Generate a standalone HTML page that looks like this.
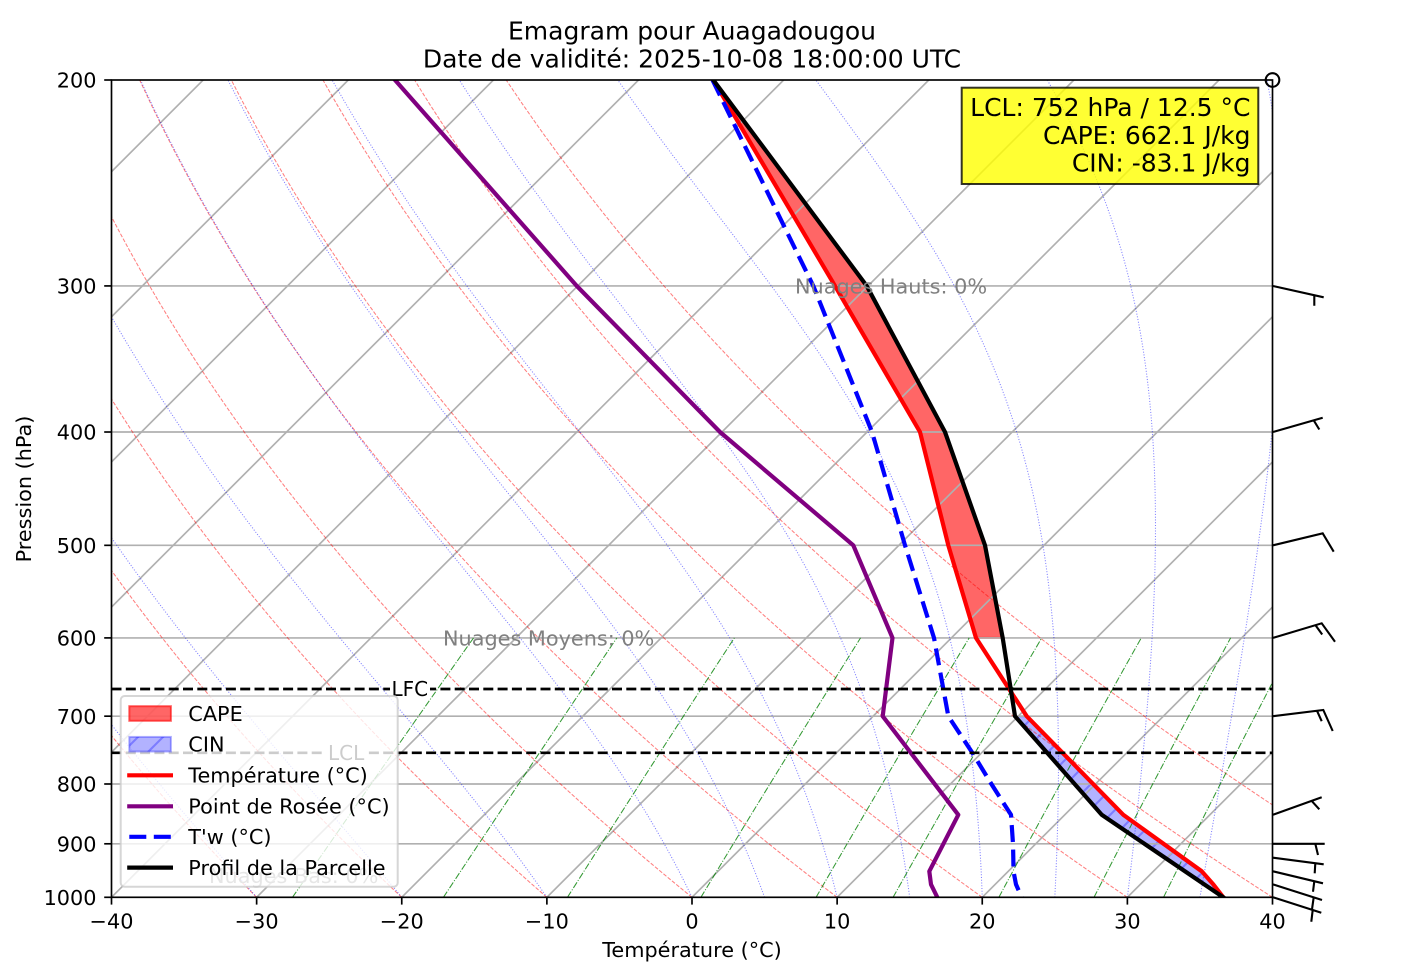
<!DOCTYPE html>
<html><head><meta charset="utf-8">
<style>
html,body{margin:0;padding:0;background:#fff;}
svg{display:block;font-family:"DejaVu Sans","Liberation Sans",sans-serif;}
</style></head>
<body>
<svg id="s" width="1404" height="978" viewBox="0 0 1404 978" xmlns="http://www.w3.org/2000/svg">
<defs>
<clipPath id="ax"><rect x="111.5" y="80" width="1161" height="817.3"/></clipPath>
<pattern id="hatch" patternUnits="userSpaceOnUse" width="25" height="25">
<path d="M-12.5,12.5 L12.5,-12.5 M0,25 L25,0 M12.5,37.5 L37.5,12.5" stroke="#0000ff" stroke-opacity="0.3" stroke-width="2.1" fill="none"/>
</pattern>
</defs>
<rect x="0" y="0" width="1404" height="978" fill="#fff"/>

<g clip-path="url(#ax)">
<!-- CAPE fill -->
<polygon points="713.3,80 866.7,285.9 945,432 985,545.3 1002.7,637.9 976,637.9 948.3,545.3 920,432 835,285.9" fill="#ff0000" fill-opacity="0.6" stroke="#ff0000" stroke-opacity="0.6" stroke-width="2"/>
<!-- CIN fill -->
<polygon points="1015,716.2 1101.7,814.8 1223.3,897.3 1213.3,884.4 1201.7,871.25 1123.3,814.8 1026.7,716.2" fill="#0000ff" fill-opacity="0.3" stroke="#0000ff" stroke-opacity="0.3" stroke-width="2"/>
<polygon points="1015,716.2 1101.7,814.8 1223.3,897.3 1213.3,884.4 1201.7,871.25 1123.3,814.8 1026.7,716.2" fill="url(#hatch)"/>

<!-- horizontal grid -->
<g stroke="#b0b0b0" stroke-width="1.67">
<line x1="111.5" x2="1272.5" y1="285.92" y2="285.92"/>
<line x1="111.5" x2="1272.5" y1="432.01" y2="432.01"/>
<line x1="111.5" x2="1272.5" y1="545.32" y2="545.32"/>
<line x1="111.5" x2="1272.5" y1="637.9" y2="637.9"/>
<line x1="111.5" x2="1272.5" y1="716.18" y2="716.18"/>
<line x1="111.5" x2="1272.5" y1="783.99" y2="783.99"/>
<line x1="111.5" x2="1272.5" y1="843.8" y2="843.8"/>
</g>
<g id="iso" stroke="#b0b0b0" stroke-width="1.67" fill="none"></g>
<g id="dry" stroke="#ff0000" stroke-opacity="0.5" stroke-width="1.04" stroke-dasharray="3.85 1.67" fill="none"></g>
<g id="moist" stroke="#0000ff" stroke-opacity="0.5" stroke-width="1.04" stroke-dasharray="1.04 1.72" fill="none"></g>
<g id="mix" stroke="#008000" stroke-opacity="0.8" stroke-width="1.04" stroke-dasharray="6.7 1.67 1.04 1.67" fill="none"></g>

<!-- data lines -->
<g fill="none" stroke-width="4.2" stroke-linejoin="round">
<path d="M713.3,80 L835,285.9 L920,432 L948.3,545.3 L976,637.9 L1026.7,716.2 L1123.3,814.8 L1201.7,871.25 L1213.3,884.4 L1223.3,897.3" stroke="#ff0000" stroke-linecap="square"/>
<path d="M395,80 L576.7,285.9 L720,432 L853.3,545.3 L892.5,637.9 L882.7,716.2 L958.3,814.8 L929.3,871.3 L931,884.4 L937.3,897.3" stroke="#800080" stroke-linecap="square"/>
<path d="M712.5,80 L813.3,285.9 L872,432 L905,545.3 L934,637.9 L948.3,716.2 L972.5,753 L991.4,784 L1011,814.8 L1013,843.8 L1013.3,857.7 L1013.5,871.3 L1016,884.4 L1021.7,897.3" stroke="#0000ff" stroke-dasharray="17 7.5"/>
<path d="M713.3,80 L866.7,285.9 L945,432 L985,545.3 L1002.7,637.9 L1015,716.2 L1101.7,814.8 L1223.3,897.3" stroke="#000000" stroke-linecap="square"/>
</g>

<!-- LFC / LCL -->
<g stroke="#000" stroke-width="2.7" stroke-dasharray="10 4.3">
<line x1="111.5" x2="1272.5" y1="689" y2="689"/>
<line x1="111.5" x2="1272.5" y1="752.8" y2="752.8"/>
</g>
</g>

<!-- labels in axes -->
<rect x="390" y="681" width="40" height="16" fill="#fff"/>
<text x="391.5" y="696" font-size="20" fill="#000">LFC</text>
<rect x="326" y="745" width="40" height="16" fill="#fff"/>
<text x="328" y="760" font-size="20" fill="#000">LCL</text>
<text x="795" y="293.5" font-size="20.8" fill="#808080">Nuages Hauts: 0%</text>
<text x="443" y="645.3" font-size="20.8" fill="#808080">Nuages Moyens: 0%</text>
<text x="209" y="883" font-size="20.8" fill="#808080">Nuages Bas: 0%</text>

<!-- legend -->
<rect x="120.7" y="696" width="277" height="190.7" rx="4" ry="4" fill="#fff" fill-opacity="0.8" stroke="#cccccc" stroke-opacity="0.8" stroke-width="2"/>
<rect x="129.3" y="706.2" width="41.6" height="14.6" fill="#ff0000" fill-opacity="0.6" stroke="#ff0000" stroke-opacity="0.6" stroke-width="2"/>
<rect x="129.3" y="736.9" width="41.6" height="14.6" fill="#0000ff" fill-opacity="0.3" stroke="#0000ff" stroke-opacity="0.3" stroke-width="2"/>
<rect x="129.3" y="736.9" width="41.6" height="14.6" fill="url(#hatch)"/>
<line x1="129.3" x2="170.9" y1="775.3" y2="775.3" stroke="#ff0000" stroke-width="4.2" stroke-linecap="square"/>
<line x1="129.3" x2="170.9" y1="806.3" y2="806.3" stroke="#800080" stroke-width="4.2" stroke-linecap="square"/>
<line x1="129.3" x2="170.9" y1="836.8" y2="836.8" stroke="#0000ff" stroke-width="4.2" stroke-dasharray="17 7.5"/>
<line x1="129.3" x2="170.9" y1="867.6" y2="867.6" stroke="#000" stroke-width="4.2" stroke-linecap="square"/>
<g font-size="20.8" fill="#000">
<text x="188.3" y="721">CAPE</text>
<text x="188.3" y="751.7">CIN</text>
<text x="188.3" y="782.7">Température (°C)</text>
<text x="188.3" y="813.4">Point de Rosée (°C)</text>
<text x="188.3" y="844.1">T'w (°C)</text>
<text x="188.3" y="874.9">Profil de la Parcelle</text>
</g>

<!-- info box -->
<rect x="961.7" y="87.7" width="296.6" height="96.3" fill="#ffff00" fill-opacity="0.8" stroke="#000" stroke-opacity="0.8" stroke-width="2"/>
<g font-size="25" fill="#000" text-anchor="end">
<text x="1250.5" y="116.2">LCL: 752 hPa / 12.5 °C</text>
<text x="1250.5" y="143.8">CAPE: 662.1 J/kg</text>
<text x="1250.5" y="171.4">CIN: -83.1 J/kg</text>
</g>

<!-- spines -->
<rect x="111.5" y="80" width="1161" height="817.3" fill="none" stroke="#000" stroke-width="1.67"/>

<!-- wind barbs -->
<g stroke="#000" stroke-width="2.1" fill="none" stroke-linejoin="miter">
<circle cx="1272.5" cy="80" r="6.8"/>
<path d="M1273,286 L1323.7,297.3 M1314.3,295.4 L1314.3,305.7"/>
<path d="M1273,432 L1322.7,417.7 M1313.7,420.3 L1319.3,429.5"/>
<path d="M1273,545.3 L1322.7,533.3 L1333.7,551.7"/>
<path d="M1273,637.9 L1321.7,623.3 L1335,641.7 M1315.5,625.2 L1322.2,634.5"/>
<path d="M1273,716.2 L1323.3,710 L1332.7,731 M1317,710.8 L1321.7,721.2"/>
<path d="M1273,814.8 L1321.7,797.3 M1311.7,800.9 L1319.3,809.3"/>
<path d="M1273,843.8 L1324.7,843.8 M1315.3,843.8 L1318,855"/>
<path d="M1273,857.7 L1323.7,864.3 M1315.3,863.2 L1314.7,873.3"/>
<path d="M1273,871.3 L1323,883.3 M1314.3,881.2 L1313,891.7"/>
<path d="M1273,884.4 L1322,900 M1313.7,897.3 L1312,909.3"/>
<path d="M1273,897.3 L1321.3,912.7 M1312.7,910 L1311.3,921.7"/>
</g>

<!-- ticks -->
<g stroke="#000" stroke-width="1.67">
<line x1="104.2" x2="111.5" y1="80" y2="80"/>
<line x1="104.2" x2="111.5" y1="285.92" y2="285.92"/>
<line x1="104.2" x2="111.5" y1="432.01" y2="432.01"/>
<line x1="104.2" x2="111.5" y1="545.32" y2="545.32"/>
<line x1="104.2" x2="111.5" y1="637.9" y2="637.9"/>
<line x1="104.2" x2="111.5" y1="716.18" y2="716.18"/>
<line x1="104.2" x2="111.5" y1="783.99" y2="783.99"/>
<line x1="104.2" x2="111.5" y1="843.8" y2="843.8"/>
<line x1="104.2" x2="111.5" y1="897.3" y2="897.3"/>
<line x1="111.5" x2="111.5" y1="897.3" y2="904.6"/>
<line x1="256.63" x2="256.63" y1="897.3" y2="904.6"/>
<line x1="401.75" x2="401.75" y1="897.3" y2="904.6"/>
<line x1="546.88" x2="546.88" y1="897.3" y2="904.6"/>
<line x1="692" x2="692" y1="897.3" y2="904.6"/>
<line x1="837.13" x2="837.13" y1="897.3" y2="904.6"/>
<line x1="982.25" x2="982.25" y1="897.3" y2="904.6"/>
<line x1="1127.38" x2="1127.38" y1="897.3" y2="904.6"/>
<line x1="1272.5" x2="1272.5" y1="897.3" y2="904.6"/>
</g>
<g font-size="20.8" fill="#000" text-anchor="end">
<text x="96.5" y="87.6">200</text>
<text x="96.5" y="293.5">300</text>
<text x="96.5" y="439.6">400</text>
<text x="96.5" y="552.9">500</text>
<text x="96.5" y="645.5">600</text>
<text x="96.5" y="723.8">700</text>
<text x="96.5" y="791.6">800</text>
<text x="96.5" y="851.4">900</text>
<text x="96.5" y="904.9">1000</text>
</g>
<g font-size="20.8" fill="#000" text-anchor="middle">
<text x="111.5" y="928.3">−40</text>
<text x="256.63" y="928.3">−30</text>
<text x="401.75" y="928.3">−20</text>
<text x="546.88" y="928.3">−10</text>
<text x="692" y="928.3">0</text>
<text x="837.13" y="928.3">10</text>
<text x="982.25" y="928.3">20</text>
<text x="1127.38" y="928.3">30</text>
<text x="1272.5" y="928.3">40</text>
<text x="692" y="957">Température (°C)</text>
<text transform="translate(31,489) rotate(-90)">Pression (hPa)</text>
</g>

<!-- title -->
<g font-size="25" fill="#000" text-anchor="middle">
<text x="692" y="39.5">Emagram pour Auagadougou</text>
<text x="692" y="67.5">Date de validité: 2025-10-08 18:00:00 UTC</text>
</g>
</svg>
<script>
(function(){
var NS="http://www.w3.org/2000/svg";
var L=111.5,B=897.3,K=507.8,S=14.5125;
function Y(p){return B-K*Math.log(1000/p);}
function X(t,p){return L+(t+40)*S+K*Math.log(1000/p);}
function add(gid,pts){
  var g=document.getElementById(gid);
  var e=document.createElementNS(NS,'path');
  var d='';
  for(var i=0;i<pts.length;i++){d+=(i?'L':'M')+pts[i][0].toFixed(2)+' '+pts[i][1].toFixed(2);}
  e.setAttribute('d',d);
  g.appendChild(e);
}
// isotherms
for(var t=-90;t<=40;t+=10){add('iso',[[X(t,1000),B],[X(t,1000)+817.3,80]]);}
// dry adiabats
var Rd=287.04749,Cp=1004.6662,Lv=2.50084e6,eps=0.6219569;
var kap=Rd/Cp;
for(var th=-50;th<=50;th+=10){
  var pts=[];
  for(var p=1000;p>=200;p-=10){var tt=(th+273.15)*Math.pow(p/1000,kap)-273.15;pts.push([X(tt,p),Y(p)]);}
  add('dry',pts);
}
// moist adiabats
function es(t){return 6.112*Math.exp(17.67*(t-273.15)/(t-29.65));}
function f(p,t){var e=es(t);var rs=eps*e/(p-e);return (Rd*t+Lv*rs)/(Cp+Lv*Lv*rs*eps/(Rd*t*t))/p;}
var m0=[-40,-30,-20,-10,0,5,10,15,20,25,30,35,40,45,50];
for(var j=0;j<m0.length;j++){
  var t0=m0[j];var tk=t0+273.15,pp=1000,h=-2;var pts2=[[X(t0,1000),B]];
  for(var i=0;i<400;i++){
    var k1=f(pp,tk),k2=f(pp+h/2,tk+h/2*k1),k3=f(pp+h/2,tk+h/2*k2),k4=f(pp+h,tk+h*k3);
    tk+=h/6*(k1+2*k2+2*k3+k4);pp+=h;
    if(i%4==3)pts2.push([X(tk-273.15,pp),Y(pp)]);
  }
  add('moist',pts2);
}
// mixing ratio lines
var ws=[0.0004,0.001,0.002,0.004,0.007,0.01,0.016,0.024,0.032];
for(var q=0;q<ws.length;q++){
  var w=ws[q];var pts3=[];
  for(var p2=1000;p2>=600;p2-=10){var e=p2*w/(eps+w);var a=Math.log(e/6.112);var td=243.5*a/(17.67-a);pts3.push([X(td,p2),Y(p2)]);}
  add('mix',pts3);
}
})();
</script>
</body></html>
